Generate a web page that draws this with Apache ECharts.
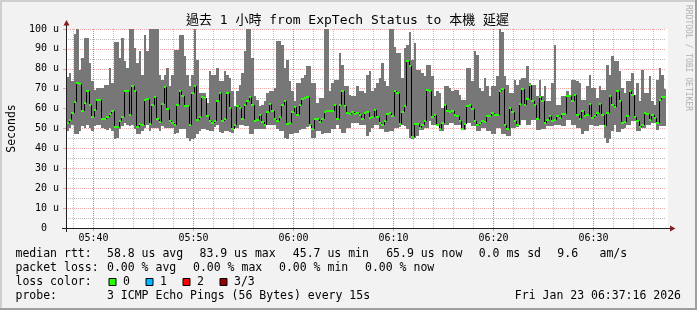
<!DOCTYPE html>
<html><head><meta charset="utf-8">
<script src="https://cdn.jsdelivr.net/npm/echarts@6/dist/echarts.min.js"></script>
<style>html,body{margin:0;padding:0;background:#f2f2f2}#c{width:697px;height:310px}</style>
</head><body><div id="c"></div>
<script>
// ---- data ----
const startMinute = 37.25;   // minutes after 05:00  (05:37:15)
const stepMinute = 0.25;     // 15 s per sample
const endMinute = 97.25;     // 06:37:15

const maxRtt = [
 76,78,73.7,97.3,102,79.5,85.3,95.3,95.3,82.8,73.7,69.5,70.3,70.3,70.3,72,72,80.3,72.8,93.7,93.7,85.3,95.3,83.7,80.3,102,102,90.3,82.8,88.7,77,97,88.7,102,102,102,102,77,74.5,77,
 80.3,71.2,77,89.5,89.5,97,97,86.2,77,71.2,77,101,84.5,67.8,67.8,68,62.8,78.7,77,77,80.3,73.7,73.7,78.7,77,75.3,68.7,61.2,68.7,72,77.8,88.7,101,100.3,85.3,66.2,64.5,61.2,62,63.7,
 67.8,68.7,68.7,70.3,94,94,92,80.3,84.5,73.7,68.7,63.7,72.8,72.8,75.3,77,81.2,81.2,72.8,72.8,62.8,65.3,65.3,100.3,100.3,68.7,72.8,74.5,74.5,87.8,82,71.2,71.2,67,66.2,66.2,71.2,68.7,68.7,67.8,
 77,78.7,68.7,70.3,72.8,75.3,82.8,73.7,71.2,100.3,100.3,91.2,87.8,87.8,75.3,90.3,92,98.7,84.5,92.8,79.5,79.5,77.8,76.2,82,82,76.2,66.2,68.7,67.8,60.3,71.2,71.2,70.3,68.7,69.5,69.5,67,64.5,64.5,
 80.3,80.3,73.7,88.7,87,70.3,68.7,75.3,71.2,66.2,71.2,71.2,76.2,100.3,98.7,76.2,72,67.8,67.8,74.5,72,74.5,75.3,75.3,81.2,72.8,72,72,66.2,74.5,66.2,71.2,63.7,63.7,72.8,92,62,62,66.2,66.2,
 68.7,67,74.5,74.5,73.7,72.8,64.5,64.5,71.2,77,70.3,70.3,65.3,71.2,69.5,69.5,82,77,86.2,83.7,83.7,78.7,70.3,67.8,73.7,73.7,77.8,67,72.8,63.7,79.5,67.8,67.8,76.2,63.7,62,74.5,80.3,77,70
];
const minRtt = [
 48.7,50.3,52,47.3,47.3,48.7,51.2,50.3,52,50.3,48.7,51.2,52,52,50.3,49.5,49,50.3,48.7,44.5,45.3,49.5,51.2,52.8,52,51.2,52,49.5,47,47,48.7,50.3,52,48.7,50.3,50.3,50.3,48.7,51.2,50.3,
 50.3,50.3,50.3,47,47.5,49.5,49.5,49.5,45,43.7,44.5,45,47,48.7,49.5,49.5,49,48.7,48.7,51,52,48.3,47.5,48.7,48.7,48,47.5,50.3,50.3,52,52,51.2,51.2,47,47,49.5,49.5,49.5,49.5,49.5,
 52,52,52,52,49.5,48.7,48.7,45,44.5,47,47,47.5,47.5,49,49.5,49.5,51,51.5,45.3,45.3,48.7,48.7,47,47.5,47.5,47.5,49.5,49.5,52,50,47.5,47.5,50.3,50.3,52.8,52.8,52.8,52,52,52,
 46,48.3,50.3,52,52,49.5,49.5,48,48,48.7,48.7,50.3,50.3,51,52,51.2,50,45.3,44.7,45.3,46,49,49,50.3,50.3,53.7,52,52,51.2,48.7,48.7,52,52,52.8,52.8,52,52,52,49,49,
 52.8,52.8,51.2,51.2,48.7,48.7,50.3,50.3,48.7,48.7,47,47,50.3,50.3,47,47,46.2,46.2,50.3,50.3,51,52,54.5,54.5,52,52,54.5,54.5,49,49,49.5,49.5,51.2,51.2,51.2,52,52,52,51.2,51.2,
 54.5,54.5,52,52,50.3,50.3,47,48.7,48.7,52,52,51.2,51.2,52,52,45.3,42.8,44.5,48.7,52,48,48,49.5,50.3,52,52,53.7,53.7,48.7,48.7,50.3,50.3,52,52,52.8,52.8,49,51.2,51.2,51.2
];
const medianRtt = [
 52.7,54.5,57.8,63.2,72.8,72.5,59,63,68.7,61.7,55.7,59.3,64.5,64.5,54.8,54.8,55.7,57.3,58.7,50.7,50.7,53.7,55.7,68.7,68.7,57,71.2,69,50.7,52.3,52,64.5,65,52.3,62,65.7,55,53.2,62.5,70.7,
 60,53.7,52.7,51.7,62,69,66.5,61.2,61.2,51.7,67.8,71.5,54.5,55.7,65.7,65.3,56.2,53.7,52.8,53.7,63.7,67.8,53.7,55,67.8,60.3,49.5,52,61.5,60.3,54.8,62,64,65.7,61.7,54,54.5,57,53.2,52,
 58.3,62.5,59,55,54,55.7,61.7,63.7,52.3,52.8,58.3,60.7,56.7,61.7,65,65.3,65.8,52,50,54.8,55,53.2,54.8,58.3,58.7,59,58.7,61.7,55,61.7,68.7,61.5,57.8,57.3,58.3,57.3,57.8,57,55,57.8,
 58.3,55.3,55.7,59.5,55.7,52.8,52,53.7,57.3,57.8,56.2,69,67.8,52.3,58.3,61.2,83.9,81.2,45.7,52.5,52.5,50.3,51.7,53.7,69.5,69,55.7,56.7,51.7,49.5,52.8,61.7,59,58.3,58.7,56.7,56.2,53.7,50,52.3,
 61.2,62,60,53.7,52,52.8,54,53.3,56.2,56.2,57.8,57,56.7,69,70,52,49.5,60.3,58.3,53.7,52,62.5,70,62,65,72,64,61.7,55,65.7,63.7,52.8,54.5,56.2,53.7,54.5,56.2,55.3,57.3,57.3,
 66.2,66.5,64,67,57,54.8,59,56.2,57,62.5,55.3,56.2,57.8,62.5,57,51.2,57.8,66.2,61.7,60.7,68.7,63.7,52.8,53.3,56.2,68.7,66.7,55.7,54,50.7,52,57.8,57.3,54.5,57,55.3,52.8,64.5,65.7,65.9
];

const titleText = '過去 1 小時 from ExpTech Status to 本機 延遲';
const rttStats = ['58.8 us avg', '83.9 us max', '45.7 us min', '65.9 us now', '0.0 ms sd', '9.6', 'am/s'];
const lossStats = ['0.00 % avg', '0.00 % max', '0.00 % min', '0.00 % now'];
const lossLabels = ['0', '1', '2', '3/3'];
const lossColors = ['#26ff00', '#00b8ff', '#ff0000', '#8f0000'];
const probeText = '3 ICMP Echo Pings (56 Bytes) every 15s';
const dateText = 'Fri Jan 23 06:37:16 2026';

// ---- build ----
const MONO = "'DejaVu Sans Mono','Noto Sans CJK TC',monospace";
const GRID_C = 'rgba(143,143,143,0.6)';
const MGRID_C = 'rgba(222,79,79,0.5)';
const AXIS_C = '#1f1f1f';
const ARROW_C = '#801f1f';

const smokeData = maxRtt.map((v, i) => [startMinute + i * stepMinute, minRtt[i], v]);
const medData = medianRtt.map((v, i) => [startMinute + i * stepMinute, v, i > 0 ? medianRtt[i - 1] : v]);

function pad(n) { return (n < 10 ? '0' : '') + n; }
function fmtMinute(m) { const r = Math.round(m); return pad(5 + Math.floor(r / 60)) + ':' + pad(r % 60); }

function renderSmoke(params, api) {
  const t = api.value(0);
  const top = api.coord([t, api.value(2)]);
  const bot = api.coord([t + stepMinute, api.value(1)]);
  const cs = params.coordSys;
  const x0 = Math.round(top[0]), x1 = Math.round(bot[0]);
  const y0 = Math.round(Math.max(top[1], cs.y)), y1 = Math.round(bot[1]);
  return { type: 'rect', shape: { x: x0, y: y0, width: x1 - x0, height: y1 - y0 },
           style: { fill: '#777777' } };
}
function renderMedian(params, api) {
  const t = api.value(0);
  const a = api.coord([t, api.value(1)]);
  const b = api.coord([t + stepMinute, api.value(1)]);
  const p = api.coord([t, api.value(2)]);
  const x0 = Math.round(a[0]), x1 = Math.round(b[0]);
  const ya = Math.round(a[1]), yp = Math.round(p[1]);
  const children = [];
  if (ya !== yp) {
    children.push({ type: 'line', shape: { x1: x0 + 0.5, y1: yp, x2: x0 + 0.5, y2: ya }, style: { stroke: '#000', lineWidth: 1 } });
  }
  children.push({ type: 'rect', shape: { x: x0, y: ya - 1, width: x1 - x0, height: 2 }, style: { fill: lossColors[0] } });
  return { type: 'group', children };
}

const L = 66, T = 29, W = 600, H = 199;
const legendRowY = [254.3, 268.3, 282.3, 296];
const graphics = [];
// plot canvas
graphics.push({ type: 'rect', z: -10, shape: { x: L, y: T, width: W + 2, height: H }, style: { fill: '#ffffff' } });
// frame
graphics.push({ type: 'rect', shape: { x: 0, y: 0, width: 697, height: 2 }, style: { fill: '#cfcfcf' } });
graphics.push({ type: 'rect', shape: { x: 0, y: 0, width: 2, height: 310 }, style: { fill: '#cfcfcf' } });
graphics.push({ type: 'rect', shape: { x: 695, y: 0, width: 2, height: 310 }, style: { fill: '#9e9e9e' } });
graphics.push({ type: 'rect', shape: { x: 0, y: 308, width: 697, height: 2 }, style: { fill: '#9e9e9e' } });
// axis extensions and arrows
graphics.push({ type: 'line', z: 5, shape: { x1: L + 0.5, y1: T + H + 4, x2: L + 0.5, y2: T - 4 }, style: { stroke: AXIS_C, lineWidth: 1 } });
graphics.push({ type: 'line', z: 5, shape: { x1: L - 4, y1: T + H + 0.5, x2: L + W + 4, y2: T + H + 0.5 }, style: { stroke: AXIS_C, lineWidth: 1 } });
graphics.push({ type: 'polygon', z: 5, shape: { points: [[L - 2.5, T - 3.5], [L + 3.5, T - 3.5], [L + 0.5, T - 9]] }, style: { fill: ARROW_C } });
graphics.push({ type: 'polygon', z: 5, shape: { points: [[L + W + 4, T + H - 2.5], [L + W + 4, T + H + 3.5], [L + W + 9.5, T + H + 0.5]] }, style: { fill: ARROW_C } });
// title
graphics.push({ type: 'text', x: 347.5, y: 21, style: { text: titleText, font: '13px ' + MONO, fill: '#000', align: 'center', verticalAlign: 'middle' } });
// watermark
graphics.push({ type: 'text', x: 688, y: 5, rotation: -Math.PI / 2, style: { text: 'RRDTOOL / TOBI OETIKER', font: '8px ' + MONO, fill: '#b0b0b0', align: 'left', verticalAlign: 'middle' } });
// legend
const lf = '11.5px ' + MONO;
function txt(s, x, y, align) { graphics.push({ type: 'text', x: x, y: y, style: { text: s, font: lf, fill: '#000', align: align || 'left', verticalAlign: 'middle' } }); }
txt('median rtt:', 15.5, legendRowY[0]);
const rttX = [107, 199.5, 292.8, 386.2, 478.7, 557.3, 599.5];
rttStats.forEach((s, i) => txt(s, rttX[i], legendRowY[0]));
txt('packet loss:', 15.5, legendRowY[1]);
lossStats.forEach((s, i) => txt(s, 107 + 86 * i, legendRowY[1]));
txt('loss color:', 15.5, legendRowY[2]);
lossLabels.forEach((s, i) => {
  const bx = 109 + 37 * i;
  graphics.push({ type: 'rect', shape: { x: bx, y: 278.5, width: 7, height: 7 }, style: { fill: lossColors[i], stroke: '#000', lineWidth: 1 } });
  txt(s, bx + 14, legendRowY[2]);
});
txt('probe:', 15.5, legendRowY[3]);
txt(probeText, 107, legendRowY[3]);
txt(dateText, 681, legendRowY[3], 'right');

const chart = echarts.init(document.getElementById('c'), null, { renderer: 'canvas' });
chart.setOption({
  backgroundColor: '#f2f2f2',
  animation: false,
  grid: { left: L, top: T, width: W, height: H, show: false, containLabel: false, outerBoundsMode: 'none' },
  xAxis: [
    { type: 'value', min: startMinute, max: endMinute, splitNumber: 6, z: 1,
      axisLine: { show: true, lineStyle: { color: AXIS_C } },
      axisTick: { show: true, length: 3, lineStyle: { color: MGRID_C } },
      axisLabel: { formatter: fmtMinute, showMinLabel: false, showMaxLabel: false, margin: 5, fontSize: 10, fontFamily: MONO, color: '#000' },
      splitLine: { show: true, showMinLine: false, showMaxLine: false, lineStyle: { color: MGRID_C, type: [1, 1], width: 1 } } },
    { type: 'value', min: startMinute, max: endMinute, splitNumber: 30, position: 'top', z: 0,
      axisLine: { show: false }, axisTick: { show: false }, axisLabel: { show: false },
      splitLine: { show: true, showMinLine: false, showMaxLine: false, lineStyle: { color: GRID_C, type: [1, 1], width: 1 } } }
  ],
  yAxis: {
    type: 'value', min: 0, max: 100, interval: 10, z: 1,
    name: 'Seconds', nameLocation: 'middle', nameGap: 48,
    nameTextStyle: { fontSize: 11.5, fontFamily: MONO, color: '#000' },
    axisLine: { show: true, lineStyle: { color: AXIS_C } },
    axisTick: { show: true, length: 3, lineStyle: { color: MGRID_C } },
    axisLabel: { formatter: v => (v === 0 ? '0  ' : v + ' u'), margin: 7, fontSize: 10, fontFamily: MONO, color: '#000' },
    splitLine: { show: true, lineStyle: { color: MGRID_C, type: [1, 1], width: 1 } },
    minorTick: { show: false, splitNumber: 2 },
    minorSplitLine: { show: true, lineStyle: { color: GRID_C, type: [1, 1], width: 1 } }
  },
  series: [
    { type: 'custom', name: 'smoke', z: 2, clip: true, renderItem: renderSmoke, data: smokeData,
      encode: { x: 0, y: [1, 2] }, silent: true },
    { type: 'custom', name: 'median', z: 3, clip: true, renderItem: renderMedian, data: medData,
      encode: { x: 0, y: 1 }, silent: true }
  ],
  graphic: { elements: graphics }
});
</script>
</body></html>
